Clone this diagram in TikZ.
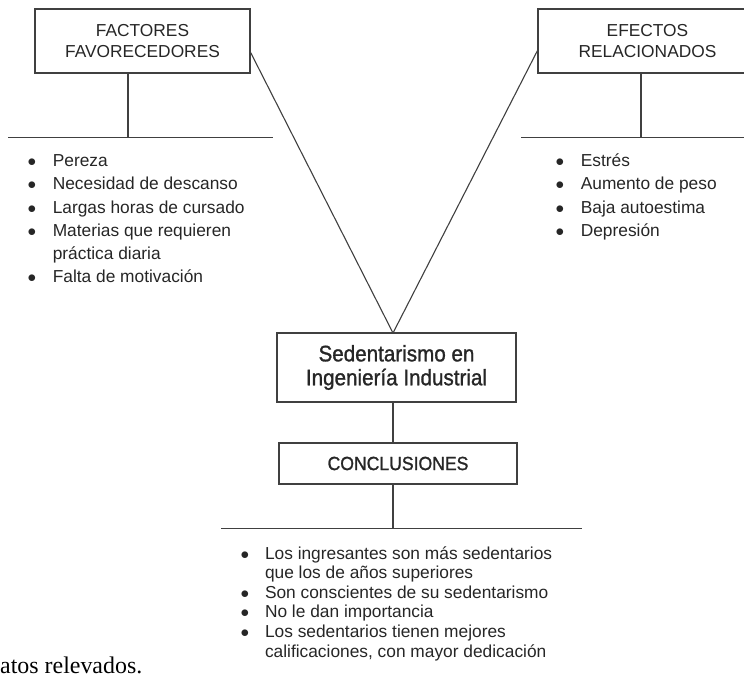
\documentclass[tikz,border=0pt]{standalone}
\usepackage{fontspec}
\setmainfont{Liberation Sans}
\newfontfamily\narrowsans[FakeStretch=0.92,FakeBold=1.2]{Liberation Sans}
\newfontfamily\pageserif{Liberation Serif}
\usepackage{tikz}
\newcommand{\listfont}{\fontsize{17.4}{23.3}\selectfont}
\newcommand{\tightlistfont}{\fontsize{17.4}{19.7}\selectfont}
\newcommand{\itemdot}{$\bullet$}

\begin{document}
\begin{tikzpicture}[x=1bp,y=-1bp,
    box/.style={draw=black!75,line width=1.1bp,inner sep=0pt,align=center,text=black!85},
    rule/.style={draw=black!75,line width=1.1bp},
    items/.style={anchor=base west,inner sep=0pt,text=black!85}]
    \useasboundingbox (0,0) rectangle (744,677);
    \clip (0,0) rectangle (744,677);
    \node [box,minimum width=215bp,minimum height=64bp,font=\fontsize{17.4}{22}\selectfont] (fav) at (142.5,41) {FACTORES\\FAVORECEDORES};
    \node [box,minimum width=219bp,minimum height=64bp,font=\fontsize{17.4}{22}\selectfont] (eff) at (647.5,41) {EFECTOS\\RELACIONADOS};
    \node [box,minimum width=239bp,minimum height=69bp,font=\narrowsans\fontsize{22.5}{24}\selectfont] (sed) at (396.5,367.5) {Sedentarismo en\\Ingeniería Industrial};
    \node [box,minimum width=238bp,minimum height=41bp,font=\narrowsans\fontsize{19.2}{22}\selectfont] (concl) at (398,463.5) {CONCLUSIONES};
    \coordinate (apex) at (393,333);
    \coordinate (favstem) at (128,137.7);
    \coordinate (favrule-l) at (8,137.7);
    \coordinate (favrule-r) at (273,137.7);
    \coordinate (effstem) at (641,137.5);
    \coordinate (effrule-l) at (521,137.5);
    \coordinate (effrule-r) at (744,137.5);
    \coordinate (conclstem) at (393,528.5);
    \coordinate (conclrule-l) at (221,528.5);
    \coordinate (conclrule-r) at (582,528.5);
    \draw [rule] (fav.-6) to (apex);
    \draw [rule] (eff.185) to (apex);
    \draw [rule] (favstem |- fav.south) to (favstem);
    \draw [rule] (favrule-l) to (favrule-r);
    \draw [rule] (effstem |- eff.south) to (effstem);
    \draw [rule] (effrule-l) to (effrule-r);
    \draw [rule] (apex |- sed.south) to (apex |- concl.north);
    \draw [rule] (apex |- concl.south) to (conclstem);
    \draw [rule] (conclrule-l) to (conclrule-r);
    \node [items] (favlist) at (27.5,166.7) {\listfont\begin{tabular}[t]{@{}l@{\hspace{16.5bp}}l@{}}
        \itemdot & Pereza\\
        \itemdot & Necesidad de descanso\\
        \itemdot & Largas horas de cursado\\
        \itemdot & Materias que requieren\\
                 & práctica diaria\\
        \itemdot & Falta de motivación
      \end{tabular}};
    \node [items] (efflist) at (555.5,166.7) {\listfont\begin{tabular}[t]{@{}l@{\hspace{16.5bp}}l@{}}
        \itemdot & Estrés\\
        \itemdot & Aumento de peso\\
        \itemdot & Baja autoestima\\
        \itemdot & Depresión
      \end{tabular}};
    \node [items] (concllist) at (240.5,559) {\tightlistfont\begin{tabular}[t]{@{}l@{\hspace{15.7bp}}l@{}}
        \itemdot & Los ingresantes son más sedentarios\\
                 & que los de años superiores\\
        \itemdot & Son conscientes de su sedentarismo\\
        \itemdot & No le dan importancia\\
        \itemdot & Los sedentarios tienen mejores\\
                 & calificaciones, con mayor dedicación
      \end{tabular}};
    \node [anchor=base west,inner sep=0pt,font=\pageserif\fontsize{24}{28}\selectfont] (pagetext) at (0,673) {atos relevados.};
  \end{tikzpicture}
\end{document}
